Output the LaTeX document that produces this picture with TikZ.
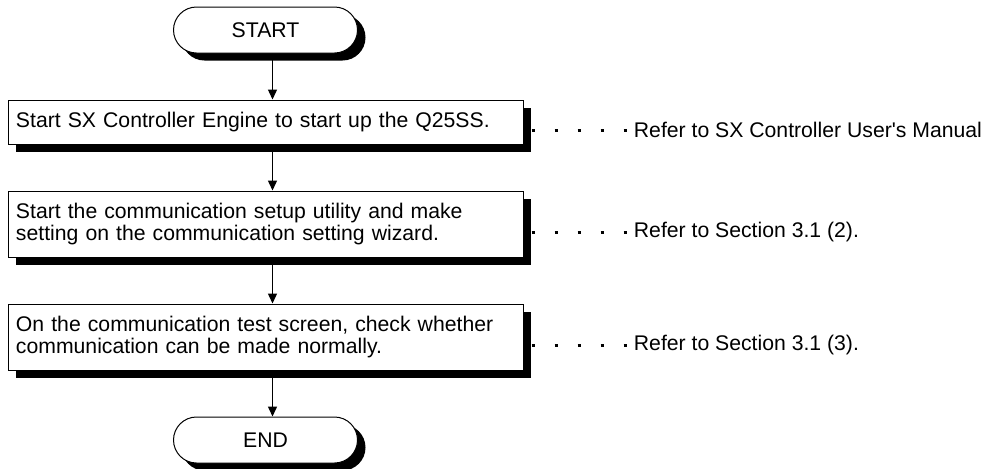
\documentclass[tikz,border=0pt]{standalone}
\usepackage{fontspec}
\setmainfont{Liberation Sans}
\usetikzlibrary{positioning,shadows,arrows.meta}

\begin{document}
\begin{tikzpicture}[x=0.5pt, y=-0.5pt, node distance=23pt, font=\fontsize{10.6}{11}\selectfont,
	sh/.style={general shadow={fill=black, shadow xshift=4pt, shadow yshift=-3.75pt}},
	t/.style={draw, line width=.5pt, fill=white, rounded corners=11.5pt, minimum width=92pt, minimum height=23pt, sh},
	p/.style={draw, line width=.5pt, fill=white, text width=249.5pt, inner xsep=4pt, align=left, minimum height=22pt, sh},
	r/.style={inner sep=0pt},
	a/.style={-{Triangle[length=5pt, width=4.5pt]}, line width=.7pt},
	d/.style={line width=1.5pt, dash pattern=on 1.5pt off 10pt}]
		\useasboundingbox (0,0) rectangle (983,468);
		\node[t] (S) at (265.5,30) {START};
		\node[p, below=of S] (P1) {Start SX Controller Engine to start up the Q25SS.};
		\node[p, below=of P1, minimum height=33pt] (P2) {Start the communication setup utility and make\\setting on the communication setting wizard.};
		\node[p, below=of P2, minimum height=33pt] (P3) {On the communication test screen, check whether\\communication can be made normally.};
		\node[t, below=of P3] (E) {END};

		\node[r, right=55pt of P1.east, yshift=-4pt] (R1) {Refer to SX Controller User\textquotesingle s Manual};
		\node[r, right=55pt of P2.east, yshift=-4pt] (R2) {Refer to Section 3.1 (2).};
		\node[r, right=55pt of P3.east, yshift=-4pt] (R3) {Refer to Section 3.1 (3).};

		\draw[a] ([xshift=3.5pt]S.south) -- ([xshift=3.5pt]P1.north);
		\draw[a] ([xshift=3.5pt]P1.south) -- ([xshift=3.5pt]P2.north);
		\draw[a] ([xshift=3.5pt]P2.south) -- ([xshift=3.5pt]P3.north);
		\draw[a] ([xshift=3.5pt]P3.south) -- ([xshift=3.5pt]E.north);

		\draw[d] ([xshift=4pt, yshift=-4pt]P1.east) -- (R1.west);
		\draw[d] ([xshift=4pt, yshift=-4pt]P2.east) -- (R2.west);
		\draw[d] ([xshift=4pt, yshift=-4pt]P3.east) -- (R3.west);
	\end{tikzpicture}
\end{document}
